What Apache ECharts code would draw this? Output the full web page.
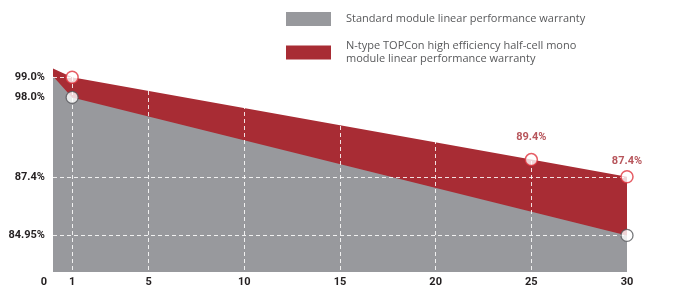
<!DOCTYPE html>
<html>
<head>
<meta charset="utf-8">
<script src="https://cdn.jsdelivr.net/npm/echarts@6/dist/echarts.min.js"></script>
<style>
  html, body { margin: 0; padding: 0; background: #fff; }
  #chart { width: 691px; height: 288px; }
</style>
</head>
<body>
<div id="chart"></div>
<script>
// datos
const ntypeYears = [0, 1, 25, 30];
const ntypeValues = [100, 99.0, 89.4, 87.4];
const standardYears = [0, 1, 30];
const standardValues = [100, 98.0, 84.95];

const xLabels = [0, 1, 5, 10, 15, 20, 25, 30];
const xGridLines = [1, 5, 10, 15, 20, 25];
const ntypeTicks = [99.0, 87.4];
const standardTicks = [98.0, 84.95];
const standardGridLines = [84.95];

const standardName = "Standard module linear performance warranty";
const ntypeName = "N-type TOPCon high efficiency half-cell mono\nmodule linear performance warranty";

const RED = "#a82c34";
const GREY = "#98999d";
const labelFont = "Roboto";

const chart = echarts.init(document.getElementById("chart"));

function pairs(xs, ys) {
  return xs.map((x, i) => [x, ys[i]]);
}

function pctLabel(v) {
  return (Number.isInteger(v) ? v.toFixed(1) : String(v)) + "%";
}

const dashed = {
  show: true,
  lineStyle: { color: "rgba(255,255,255,0.85)", type: [4, 3], width: 1 },
};

const boldText = {
  color: "#231f20",
  fontSize: 11,
  fontWeight: 700,
  fontFamily: labelFont,
};

const yAxisCommon = {
  type: "value",
  position: "left",
  z: 3,
  axisLine: { show: false },
  splitLine: dashed,
};

const option = {
  animation: false,
  legend: {
    orient: "vertical",
    left: 286,
    top: 12,
    padding: 0,
    itemWidth: 45,
    itemHeight: 14,
    itemGap: 8,
    icon: "rect",
    selectedMode: false,
    textStyle: { color: "#58595b", fontSize: 11, fontFamily: "Open Sans", lineHeight: 13 },
    data: [
      { name: standardName, itemStyle: { color: GREY }, textStyle: { padding: [0, 0, 0, 10] } },
      { name: ntypeName, itemStyle: { color: RED }, textStyle: { padding: [11, 0, 0, 10] } },
    ],
  },
  grid: { left: 53, right: 64, top: 63, bottom: 15 },
  xAxis: {
    type: "value",
    min: 0,
    max: 30,
    z: 3,
    axisLine: { show: false },
    axisTick: { show: false, customValues: xGridLines },
    splitLine: dashed,
    axisLabel: Object.assign({}, boldText, {
      customValues: xLabels,
      margin: 5,
      formatter: (v) => (v === 0 ? "{zero|0}" : String(v)),
      rich: { zero: Object.assign({}, boldText, { padding: [0, 18, 0, 0] }) },
    }),
  },
  yAxis: [
    Object.assign({}, yAxisCommon, {
      min: 76.31,
      max: 100.65,
      axisTick: { show: false, customValues: ntypeTicks },
      axisLabel: Object.assign({}, boldText, {
        customValues: ntypeTicks,
        margin: 8,
        formatter: pctLabel,
      }),
    }),
    Object.assign({}, yAxisCommon, {
      min: 81.49,
      max: 101.25,
      axisTick: { show: false, customValues: standardGridLines },
      axisLabel: Object.assign({}, boldText, {
        customValues: standardTicks,
        margin: 8,
        formatter: pctLabel,
      }),
    }),
  ],
  series: [
    {
      name: ntypeName,
      type: "line",
      yAxisIndex: 0,
      z: 1,
      symbol: "none",
      itemStyle: { color: RED },
      lineStyle: { width: 0 },
      areaStyle: { color: RED, opacity: 1 },
      data: pairs(ntypeYears, ntypeValues),
    },
    {
      name: standardName,
      type: "line",
      yAxisIndex: 1,
      z: 2,
      symbol: "none",
      itemStyle: { color: GREY },
      lineStyle: { width: 0 },
      areaStyle: { color: GREY, opacity: 1 },
      data: pairs(standardYears, standardValues),
    },
    {
      type: "scatter",
      yAxisIndex: 0,
      z: 5,
      symbolSize: 12,
      itemStyle: { color: "#fff", borderColor: "#e0353f", borderWidth: 1.5 },
      label: Object.assign({}, boldText, {
        show: true,
        position: "top",
        color: "#a52a32",
        formatter: (p) => p.value[1] + "%",
      }),
      data: pairs(ntypeYears, ntypeValues)
        .slice(1)
        .map((d) => ({
          value: d,
          label: d[0] === 1 ? { show: false } : { distance: d[0] === 25 ? 10 : 3 },
        })),
    },
    {
      type: "scatter",
      yAxisIndex: 1,
      z: 5,
      symbolSize: 12,
      itemStyle: { color: "#fff", borderColor: "#55565a", borderWidth: 1.3 },
      data: pairs(standardYears, standardValues).slice(1),
    },
  ],
};

chart.setOption(option);
</script>
</body>
</html>
